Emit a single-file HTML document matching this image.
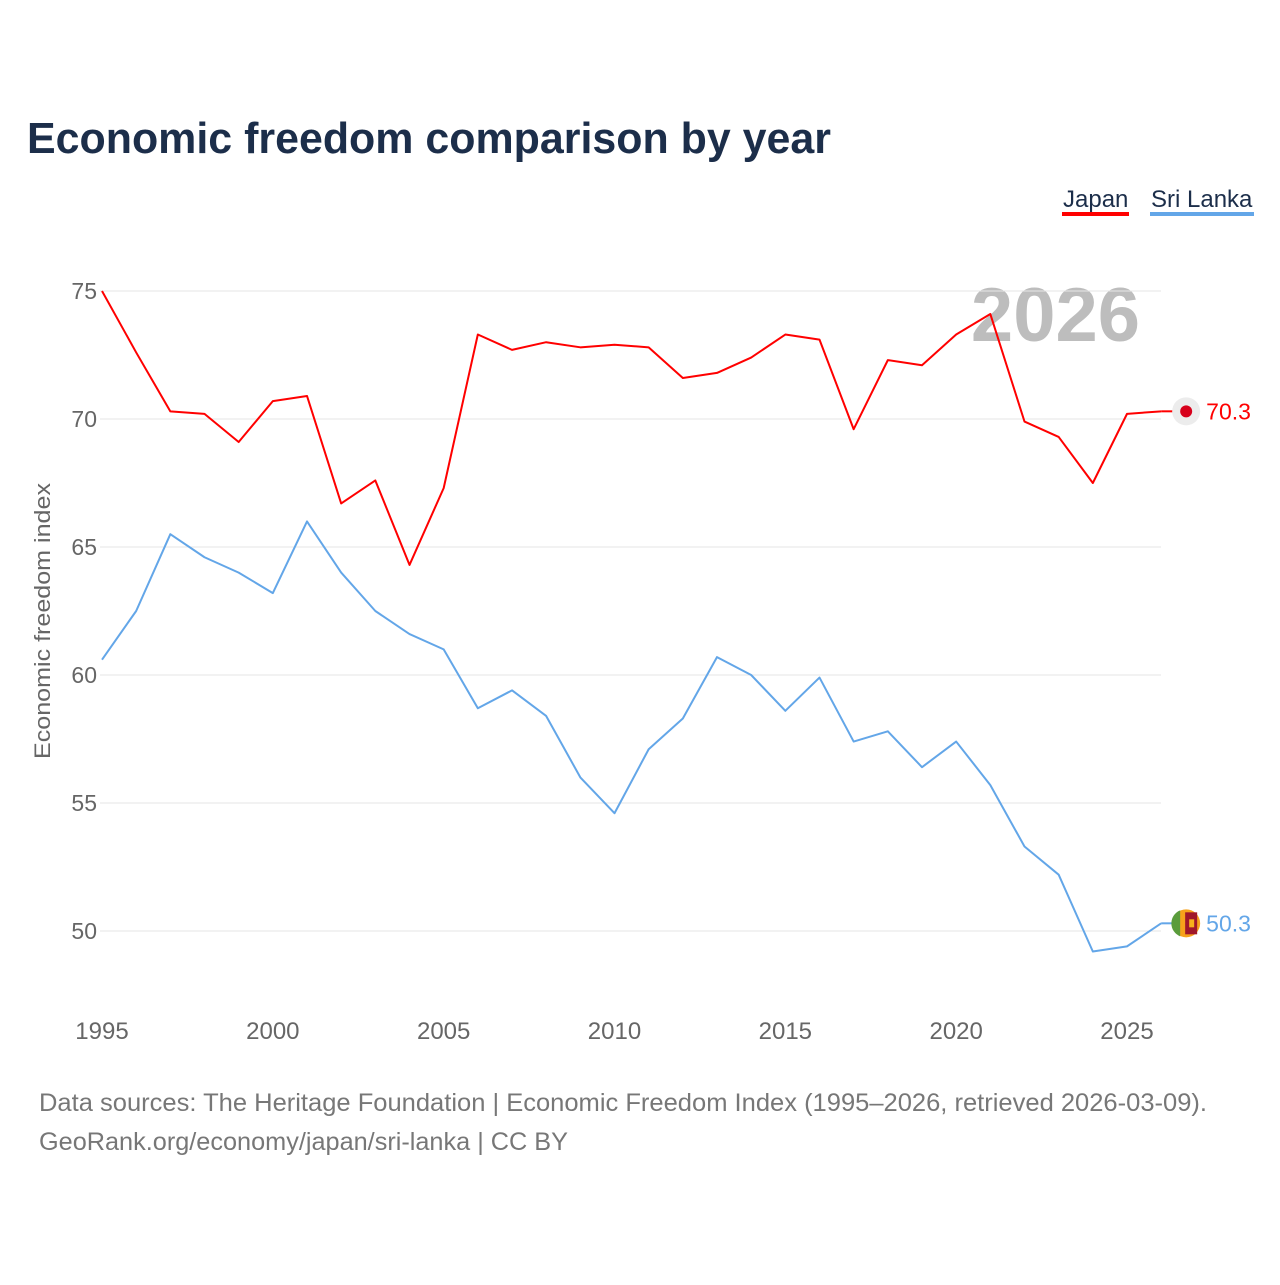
<!DOCTYPE html>
<html><head><meta charset="utf-8"><style>
body{margin:0;background:#fff;width:1280px;height:1280px;overflow:hidden;font-family:"Liberation Sans",sans-serif}
</style></head><body>
<svg id="chart" width="1280" height="1280" xmlns="http://www.w3.org/2000/svg" font-family="Liberation Sans, sans-serif">
<text x="27" y="153" font-size="44" font-weight="bold" fill="#1c2e4a" textLength="804" lengthAdjust="spacingAndGlyphs">Economic freedom comparison by year</text>
<g>
<text x="1063" y="207" font-size="24" fill="#1c2e4a">Japan</text>
<rect x="1062" y="212" width="67" height="4" fill="#ff0000"/></g>
<g>
<text x="1151" y="207" font-size="24" fill="#1c2e4a">Sri Lanka</text>
<rect x="1150" y="212" width="104" height="4" fill="#63a6e8"/></g>
<text x="1140" y="341" font-size="76" font-weight="bold" fill="#bdbdbd" text-anchor="end">2026</text>
<text transform="translate(50,621) rotate(-90)" font-size="22" fill="#666" text-anchor="middle" textLength="276" lengthAdjust="spacingAndGlyphs">Economic freedom index</text>
<g id="grid"></g><g id="yticks"></g><g id="xticks"></g><g id="lines"></g>
<text x="39" y="1111" font-size="25" fill="#777" textLength="1168" lengthAdjust="spacingAndGlyphs">Data sources: The Heritage Foundation | Economic Freedom Index (1995–2026, retrieved 2026-03-09).</text>
<text x="39" y="1150" font-size="25" fill="#777" textLength="529" lengthAdjust="spacingAndGlyphs">GeoRank.org/economy/japan/sri-lanka | CC BY</text>
</svg>
<script>
const years=[1995,1996,1997,1998,1999,2000,2001,2002,2003,2004,2005,2006,2007,2008,2009,2010,2011,2012,2013,2014,2015,2016,2017,2018,2019,2020,2021,2022,2023,2024,2025,2026];
const japan=[75.0,72.6,70.3,70.2,69.1,70.7,70.9,66.7,67.6,64.3,67.3,73.3,72.7,73.0,72.8,72.9,72.8,71.6,71.8,72.4,73.3,73.1,69.6,72.3,72.1,73.3,74.1,69.9,69.3,67.5,70.2,70.3];
const sriLanka=[60.6,62.5,65.5,64.6,64.0,63.2,66.0,64.0,62.5,61.6,61.0,58.7,59.4,58.4,56.0,54.6,57.1,58.3,60.7,60.0,58.6,59.9,57.4,57.8,56.4,57.4,55.7,53.3,52.2,49.2,49.4,50.3];
const yTicks=[50,55,60,65,70,75];
const xTicks=[1995,2000,2005,2010,2015,2020,2025];
const NS="http://www.w3.org/2000/svg";
const X=v=>102+(v-1995)*(1127-102)/30;
const Y=v=>931-(v-50)*25.6;
function mk(tag,attrs,parent,text){const e=document.createElementNS(NS,tag);for(const k in attrs)e.setAttribute(k,attrs[k]);if(text!==undefined)e.textContent=text;document.getElementById(parent).appendChild(e);return e;}
yTicks.forEach(t=>{
 const l=mk('line',{x1:100,x2:1161,y1:Y(t),y2:Y(t),stroke:'#e6e6e6','stroke-width':1},'grid');
 
 
 const tx=mk('text',{x:97,y:Y(t)+8,'font-size':23,fill:'#666','text-anchor':'end'},'yticks',t);
 
 
});
xTicks.forEach(t=>{
 const tx=mk('text',{x:X(t),y:1039,'font-size':24,fill:'#666','text-anchor':'middle'},'xticks',t);
 
 
});
function series(vals,color,name){
 const p=mk('polyline',{points:vals.map((v,i)=>X(years[i])+','+Y(v)).join(' '),fill:'none',stroke:color,'stroke-width':2,'stroke-linejoin':'round'},'lines');
 
 
 const last=vals[vals.length-1];
 const lx=X(2026)+25, ly=Y(last);
 mk('line',{x1:X(2026),x2:lx-12,y1:ly,y2:ly,stroke:color,'stroke-width':2},'lines');
 return [lx,ly,last];
}
const [jx,jy,jv]=series(japan,'#ff0000','japan');
const [sx,sy,sv]=series(sriLanka,'#63a6e8','sri-lanka');
const jm=mk('circle',{cx:jx,cy:jy,r:14,fill:'#ececec'},'lines');


mk('circle',{cx:jx,cy:jy,r:6,fill:'#d7001b'},'lines');
const jl=mk('text',{x:jx+20,y:jy+8,'font-size':23,fill:'#ff0000'},'lines',jv.toFixed(1));


const sm=mk('circle',{cx:sx,cy:sy,r:14,fill:'#f7a21b'},'lines');


mk('path',{d:`M${sx-6},${sy-13} A14,14 0 0 0 ${sx-6},${sy+13} Z`,fill:'#5a9c3c'},'lines');
mk('rect',{x:sx-1,y:sy-11,width:12,height:22,fill:'#a0182a'},'lines');
mk('rect',{x:sx+3,y:sy-4,width:5,height:8,fill:'#f7b21b'},'lines');
const sl=mk('text',{x:sx+20,y:sy+8,'font-size':23,fill:'#63a6e8'},'lines',sv.toFixed(1));


</script>
</body></html>
